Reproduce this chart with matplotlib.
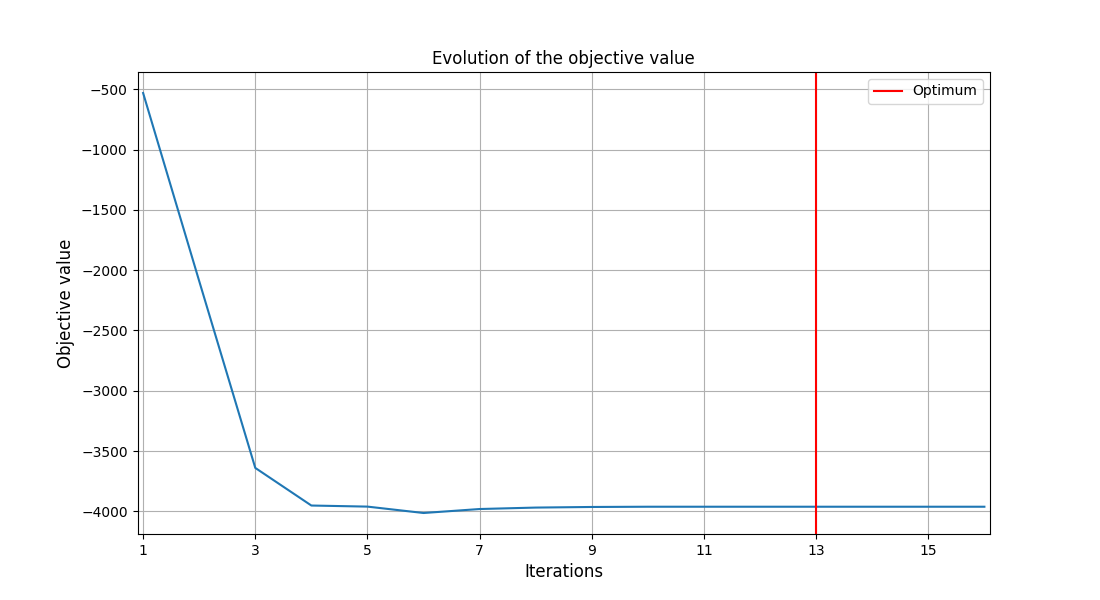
import matplotlib
matplotlib.use("Agg")
import matplotlib.pyplot as plt

# objective value per iteration
iterations = list(range(1, 17))
objective = [-530, -2090, -3640, -3952, -3961, -4014, -3981, -3969,
             -3964, -3962, -3962, -3962, -3962, -3962, -3962, -3962]
optimum_iter = 13
xticks = list(range(1, 17, 2))

plt.figure(figsize=(11, 6), dpi=100)
plt.plot(iterations, objective)
plt.axvline(optimum_iter, color='red', label='Optimum')
plt.title('Evolution of the objective value')
plt.xlabel('Iterations', fontsize=12)
plt.ylabel('Objective value', fontsize=12)
plt.xticks(xticks)
plt.xlim(0.9, 16.1)
plt.grid(True)
plt.legend()

plt.savefig('out.png', dpi=100)
